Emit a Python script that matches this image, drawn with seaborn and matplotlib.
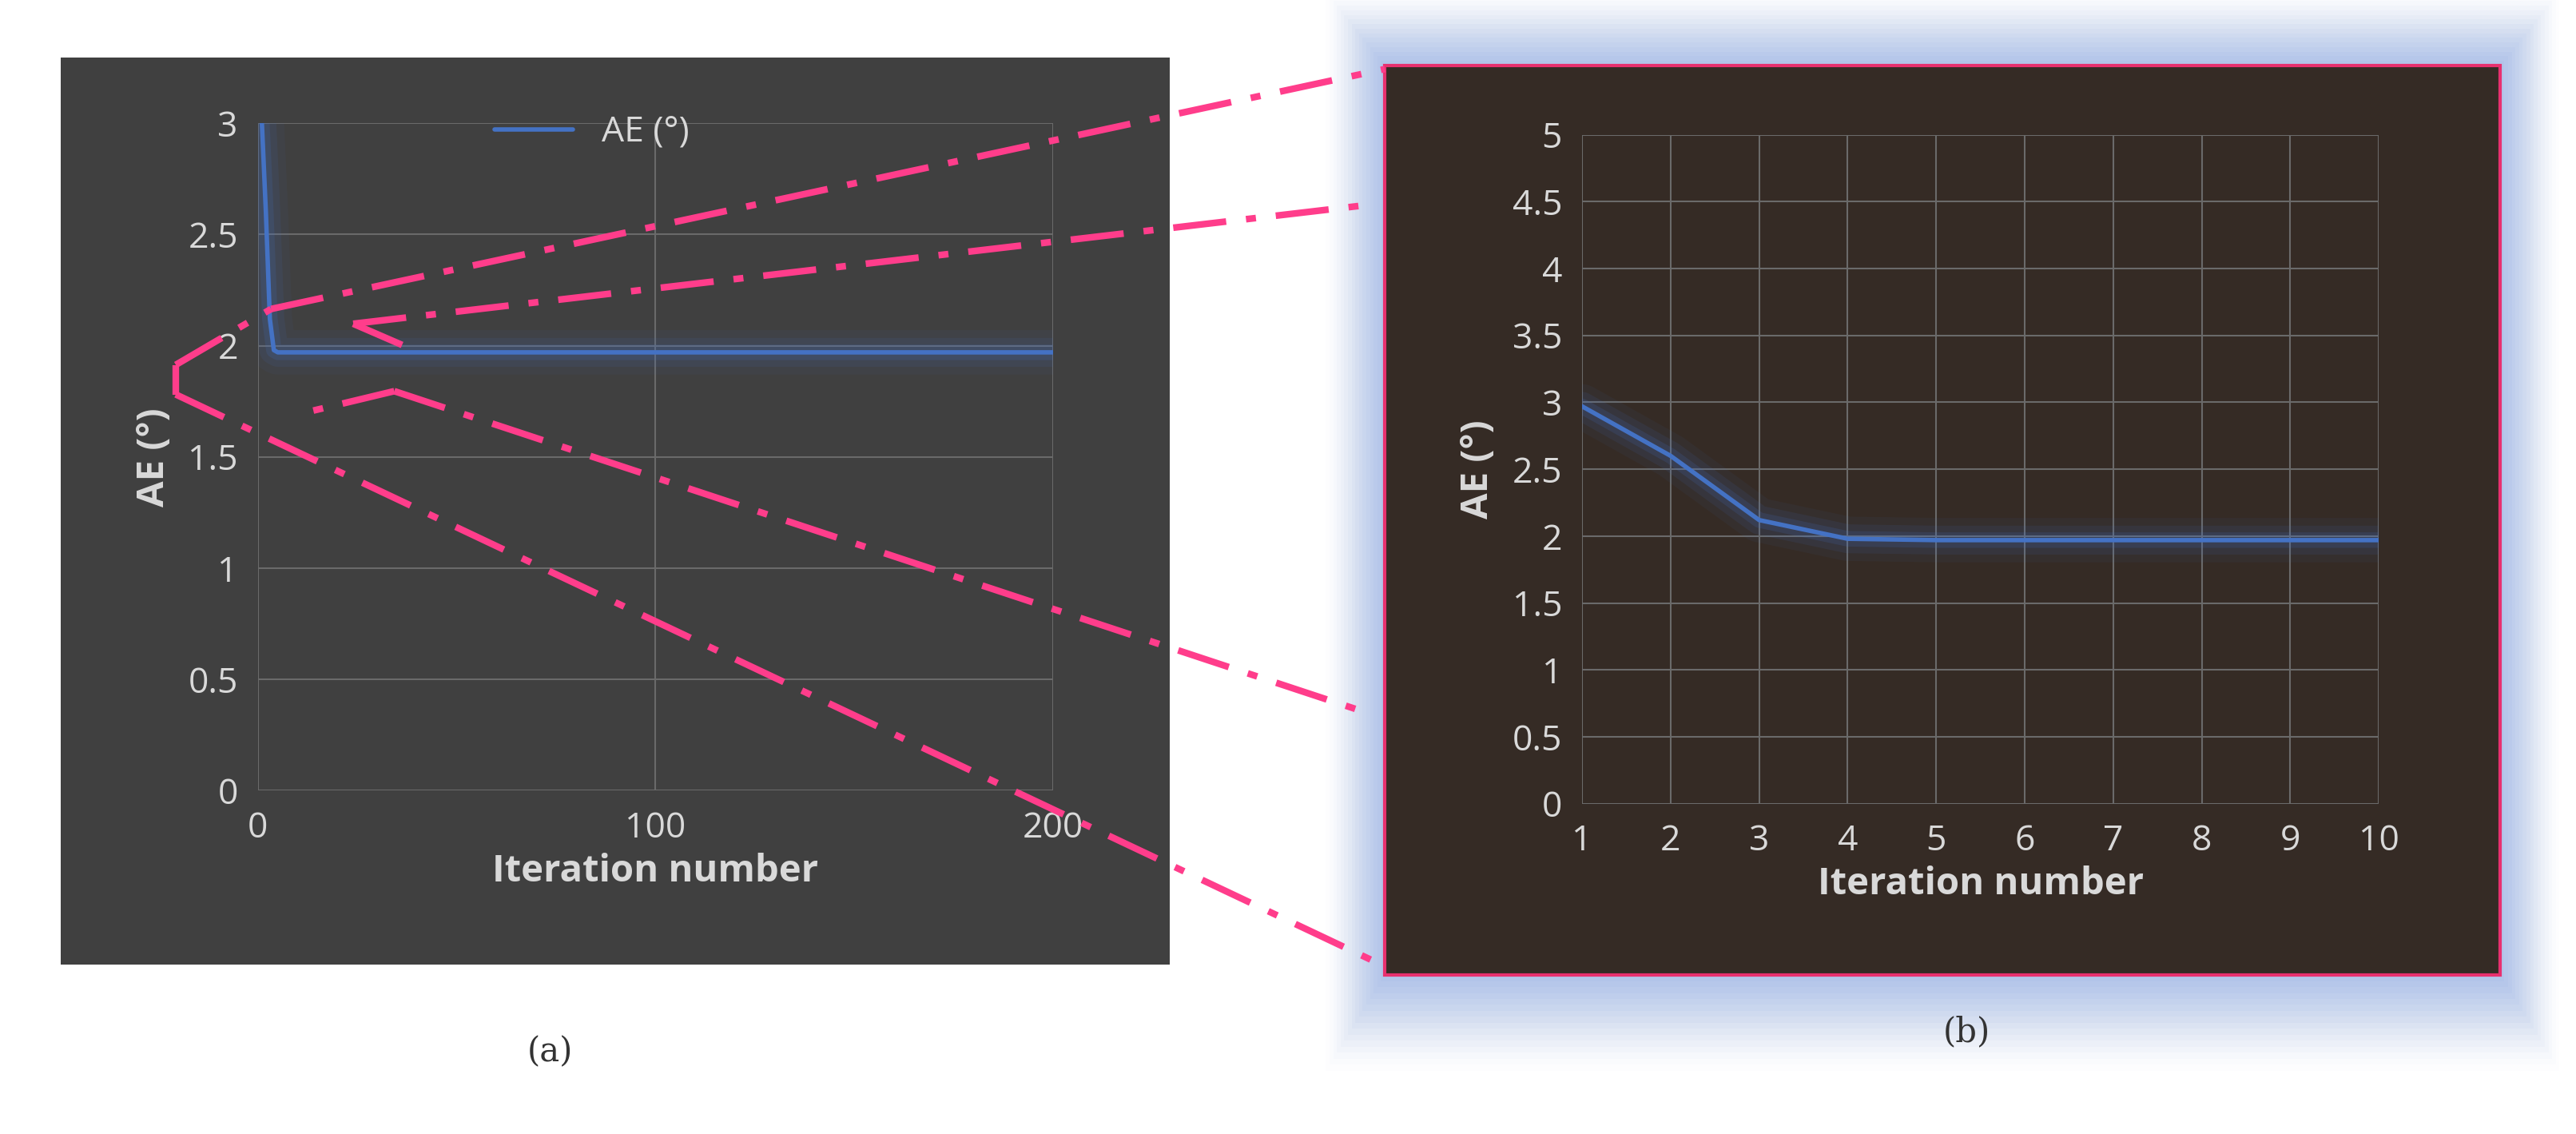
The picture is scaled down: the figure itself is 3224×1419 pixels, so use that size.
import matplotlib
matplotlib.use("Agg")
import matplotlib.pyplot as plt
import seaborn as sns
import numpy as np
import pandas as pd
from matplotlib.patches import Rectangle
from matplotlib.lines import Line2D

sns.set_theme(style="dark")
plt.rcParams['font.family'] = ['Open Sans', 'DejaVu Sans']

iter_a = list(range(1, 201))
ae_a = [3.0, 2.6, 2.12, 1.98] + [1.97] * 196
iter_b = [1, 2, 3, 4, 5, 6, 7, 8, 9, 10]
ae_b = [2.97, 2.6, 2.12, 1.98, 1.97, 1.97, 1.97, 1.97, 1.97, 1.97]
yticks_a = [0, 0.5, 1, 1.5, 2, 2.5, 3]
xticks_a = [0, 100, 200]
yticks_b = [0, 0.5, 1, 1.5, 2, 2.5, 3, 3.5, 4, 4.5, 5]
xticks_b = iter_b

W, H = 1568, 690
def fx(x): return x / W
def fy(y): return 1 - y / H

fig = plt.figure(figsize=(32.24, 14.19), dpi=100)
fig.patch.set_facecolor("white")

# glow behind (b)
for i, a in enumerate(np.linspace(0.04, 0.3, 16)):
    d = 45 - i * 2.8
    fig.patches.append(Rectangle((fx(843 - d * 0.8), fy(593 + d * 1.3)), fx(679 + 1.6 * d), (553 + d * 2.3) / H,
                                 transform=fig.transFigure, color="#9fb6e6", alpha=a * 0.5, lw=0, zorder=0))
fig.patches.append(Rectangle((fx(37), fy(587)), fx(675), 552 / H, transform=fig.transFigure,
                             color="#404040", lw=0, zorder=1))
fig.patches.append(Rectangle((fx(843), fy(593)), fx(679), 553 / H, transform=fig.transFigure,
                             facecolor="#352b25", edgecolor="#e8306f", lw=3, zorder=1))

tc = "#d9d9d9"
gc = "#6a6a6a"
def style(ax):
    ax.set_facecolor("none")
    for s in ax.spines.values():
        s.set_visible(False)
    ax.grid(True, color=gc, lw=1.5)
    ax.tick_params(colors=tc, labelsize=32, length=0, pad=18)
    ax.set_xlabel("Iteration number", color=tc, fontsize=34, fontweight="bold", labelpad=6)
    ax.set_ylabel("AE (°)", color=tc, fontsize=34, fontweight="bold", labelpad=14)

ax1 = fig.add_axes([fx(157), fy(481), fx(484), 406 / H])
ax1.set_zorder(2)
df_a = pd.DataFrame({"it": iter_a, "ae": ae_a})
for lw, al in [(40, 0.06), (26, 0.1), (14, 0.16)]:
    ax1.plot(iter_a, ae_a, color="#4472c4", lw=lw, alpha=al, solid_capstyle="butt")
sns.lineplot(data=df_a, x="it", y="ae", ax=ax1, color="#4472c4", lw=4, label="AE (°)")
ax1.set_xlim(0, 200); ax1.set_ylim(0, 3)
ax1.set_xticks(xticks_a); ax1.set_yticks(yticks_a)
ax1.set_yticklabels([f"{v:g}" for v in yticks_a])
style(ax1)
ax1.legend(loc="upper center", bbox_to_anchor=(0.42, 1.06), frameon=False, fontsize=32,
           handlelength=2.2, labelcolor=tc)

ax2 = fig.add_axes([fx(963), fy(489), fx(485), 407 / H])
ax2.set_zorder(2)
df_b = pd.DataFrame({"it": iter_b, "ae": ae_b})
for lw, al in [(40, 0.06), (26, 0.1), (14, 0.16)]:
    ax2.plot(iter_b, ae_b, color="#4472c4", lw=lw, alpha=al)
sns.lineplot(data=df_b, x="it", y="ae", ax=ax2, color="#4472c4", lw=4)
ax2.set_xlim(1, 10); ax2.set_ylim(0, 5)
ax2.set_xticks(xticks_b); ax2.set_yticks(yticks_b)
ax2.set_yticklabels([f"{v:g}" for v in yticks_b])
style(ax2)

pink = "#ff3d8b"
segs = [((165, 188), (843, 42)), ((215, 197), (830, 125)), ((240, 238), (830, 433)),
        ((107, 240), (843, 588)), ((107, 222), (165, 188)), ((107, 222), (107, 240)),
        ((215, 197), (245, 210)), ((240, 238), (190, 250))]
for (x0, y0), (x1, y1) in segs:
    fig.lines.append(Line2D([fx(x0), fx(x1)], [fy(y0), fy(y1)], transform=fig.transFigure,
                            color=pink, lw=6, ls="-.", dashes=(8, 3, 1.5, 3), zorder=5))

fig.text(fx(335), fy(640), "(a)", ha="center", va="center", fontsize=30, color="#333333",
         family=["DejaVu Serif"])
fig.text(fx(1197), fy(628), "(b)", ha="center", va="center", fontsize=30, color="#333333",
         family=["DejaVu Serif"])

fig.savefig("out.png", dpi=100)
